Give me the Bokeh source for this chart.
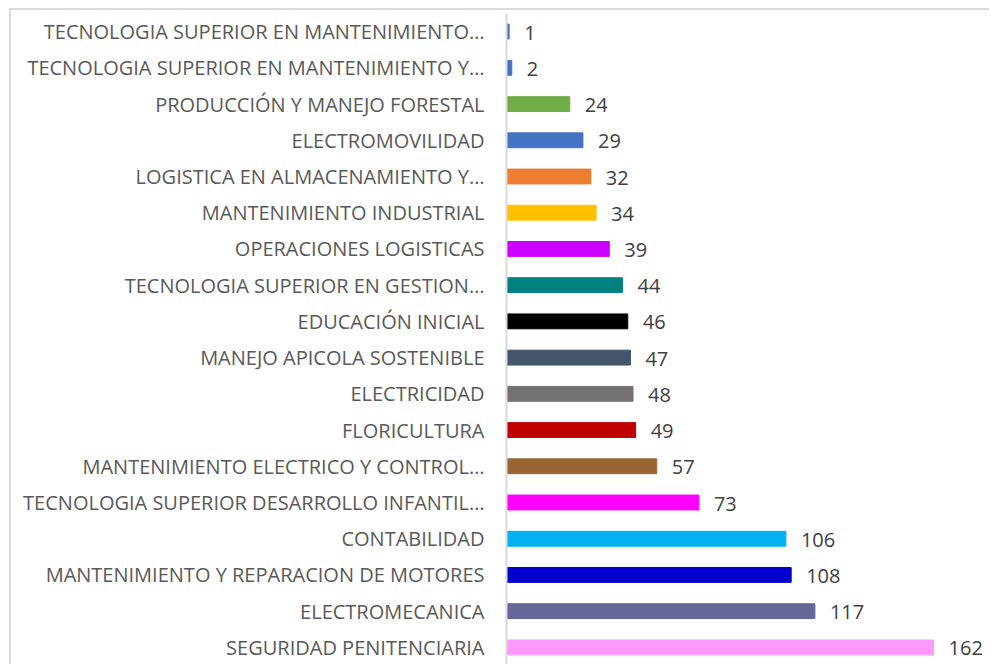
from bokeh.plotting import figure
from bokeh.models import ColumnDataSource, FactorRange, Range1d
from bokeh.core.properties import value
from bokeh.embed import file_html
from bokeh.resources import INLINE

# Data (top to bottom as shown)
categories = [
    "TECNOLOGIA SUPERIOR EN MANTENIMIENTO…",
    "TECNOLOGIA SUPERIOR EN MANTENIMIENTO Y…",
    "PRODUCCIÓN Y MANEJO FORESTAL",
    "ELECTROMOVILIDAD",
    "LOGISTICA EN ALMACENAMIENTO Y…",
    "MANTENIMIENTO INDUSTRIAL",
    "OPERACIONES LOGISTICAS",
    "TECNOLOGIA SUPERIOR EN GESTION…",
    "EDUCACIÓN INICIAL",
    "MANEJO APICOLA SOSTENIBLE",
    "ELECTRICIDAD",
    "FLORICULTURA",
    "MANTENIMIENTO ELECTRICO Y CONTROL…",
    "TECNOLOGIA SUPERIOR DESARROLLO INFANTIL…",
    "CONTABILIDAD",
    "MANTENIMIENTO Y REPARACION DE MOTORES",
    "ELECTROMECANICA",
    "SEGURIDAD PENITENCIARIA",
]
values = [1, 2, 24, 29, 32, 34, 39, 44, 46, 47, 48, 49, 57, 73, 106, 108, 117, 162]
colors = [
    "#4472C4", "#4472C4", "#70AD47", "#4472C4", "#ED7D31", "#FFC000",
    "#CC00FF", "#008080", "#000000", "#44546A", "#767171", "#C00000",
    "#996633", "#FF00FF", "#00B0F0", "#0000CC", "#666699", "#FF99FF",
]

source = ColumnDataSource(dict(
    cat=categories,
    val=values,
    color=colors,
    label=[str(v) for v in values],
))

p = figure(
    width=980, height=656,
    y_range=FactorRange(factors=list(reversed(categories)), range_padding=0),
    x_range=Range1d(0, 184),
    output_backend="svg", toolbar_location=None,
    min_border_left=495, min_border_right=0, min_border_top=3, min_border_bottom=1,
)
p.styles = {
    "margin-left": "9px",
    "margin-top": "8px",
    "border-top": "2px solid #d9d9d9",
    "border-left": "2px solid #d9d9d9",
}

p.hbar(y="cat", right="val", left=0, height=0.41, color="color", source=source)
p.text(x="val", y="cat", text="label", source=source, x_offset=15, y_offset=1,
       text_baseline="middle", text_align="left",
       text_font=value("Open Sans"), text_font_size="20px", text_color="#404040")

p.xaxis.visible = False
p.xgrid.visible = False
p.ygrid.visible = False
p.outline_line_color = None

ax = p.yaxis[0]
ax.axis_line_color = "#d9d9d9"
ax.axis_line_width = 2
ax.major_tick_line_color = None
ax.minor_tick_line_color = None
ax.major_tick_out = 0
ax.major_tick_in = 0
ax.major_label_standoff = 22
ax.major_label_text_font = "Open Sans"
ax.major_label_text_font_size = "20px"
ax.major_label_text_color = "#595959"

open("out.html", "w").write(file_html(p, INLINE))
